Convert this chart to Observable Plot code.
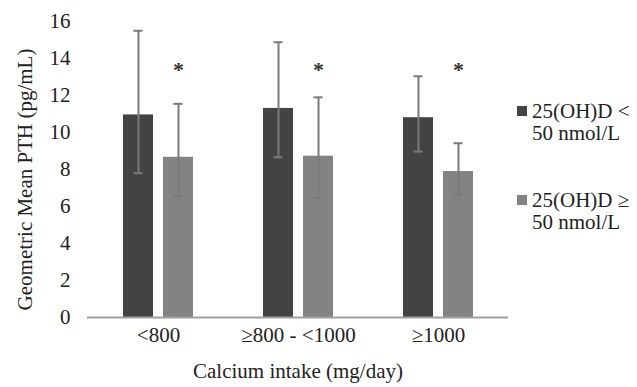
<!DOCTYPE html>
<html>
<head>
<meta charset="utf-8">
<script src="https://cdn.jsdelivr.net/npm/d3@7"></script>
<script src="https://cdn.jsdelivr.net/npm/@observablehq/plot@0.6"></script>
<style>
  html, body { margin: 0; padding: 0; background: #fff; }
  #wrap { position: relative; width: 637px; height: 387px; font-family: "Liberation Serif", "Times New Roman", serif; }
  .leg { position: absolute; left: 517px; font-size: 21px; line-height: 22px; color: #222; }
  .leg .sw { position: absolute; left: 0; top: 6px; width: 10px; height: 10px; }
  .leg .tx { margin-left: 15px; white-space: nowrap; }
</style>
</head>
<body>
<div id="wrap"></div>
<script>
const categories = ["<800", "≥800 - <1000", "≥1000"];
const seriesNames = ["25(OH)D < 50 nmol/L", "25(OH)D ≥ 50 nmol/L"];
const lowVitD = [10.95, 11.3, 10.8];
const lowVitDUpper = [15.5, 14.88, 13.04];
const lowVitDLower = [7.8, 8.66, 8.97];
const highVitD = [8.66, 8.72, 7.89];
const highVitDUpper = [11.55, 11.9, 9.42];
const highVitDLower = [6.56, 6.45, 6.65];
const starLevel = [13.4, 13.4, 13.4];
const yTicks = [0, 2, 4, 6, 8, 10, 12, 14, 16];
const yTitle = "Geometric Mean PTH (pg/mL)";
const xTitle = "Calcium intake (mg/day)";
const colors = ["#434343", "#838383"];

const dark = categories.map((c, i) => ({cat: c, v: lowVitD[i], lo: lowVitDLower[i], hi: lowVitDUpper[i]}));
const light = categories.map((c, i) => ({cat: c, v: highVitD[i], lo: highVitDLower[i], hi: highVitDUpper[i], star: starLevel[i]}));

const font = "Liberation Serif";
const errColor = "#7a7a7a";
const capInset = 65.5;

const chart = Plot.plot({
  width: 510,
  height: 387,
  marginLeft: 87,
  marginRight: 2,
  marginTop: 21,
  marginBottom: 70,
  style: {fontFamily: font, fontSize: "21px", color: "#222", background: "transparent", overflow: "visible"},
  x: {domain: categories, padding: 0, label: null},
  y: {domain: [0, 16], label: null},
  marks: [
    Plot.axisY({ticks: yTicks, tickSize: 0, tickPadding: 17, label: null, fontSize: 21}),
    Plot.axisX({tickSize: 0, tickPadding: 10, label: null, fontSize: 21}),
    Plot.barY(dark, {x: "cat", y: "v", fill: colors[0], dx: -20, insetLeft: 55, insetRight: 55}),
    Plot.barY(light, {x: "cat", y: "v", fill: colors[1], dx: 20, insetLeft: 55, insetRight: 55}),
    Plot.ruleX(dark, {x: "cat", y1: "lo", y2: "hi", stroke: errColor, strokeWidth: 2, dx: -20}),
    Plot.ruleX(light, {x: "cat", y1: "lo", y2: "hi", stroke: errColor, strokeWidth: 2, dx: 20}),
    Plot.tickY(dark, {x: "cat", y: "hi", stroke: errColor, strokeWidth: 2, dx: -20, insetLeft: capInset, insetRight: capInset}),
    Plot.tickY(dark, {x: "cat", y: "lo", stroke: errColor, strokeWidth: 2, dx: -20, insetLeft: capInset, insetRight: capInset}),
    Plot.tickY(light, {x: "cat", y: "hi", stroke: errColor, strokeWidth: 2, dx: 20, insetLeft: capInset, insetRight: capInset}),
    Plot.tickY(light, {x: "cat", y: "lo", stroke: errColor, strokeWidth: 2, dx: 20, insetLeft: capInset, insetRight: capInset}),
    Plot.text(light, {x: "cat", y: "star", text: () => "*", dx: 20, fontSize: 22, fill: "#333", fontWeight: "bold"}),
    Plot.ruleY([0], {stroke: "#a0a0a0", strokeWidth: 2}),
    Plot.text([yTitle], {frameAnchor: "left", textAnchor: "middle", rotate: -90, dx: -62, dy: 10, fontSize: 21, fill: "#222"}),
    Plot.text([xTitle], {frameAnchor: "bottom", textAnchor: "middle", dy: 60, fontSize: 21, fill: "#222"})
  ]
});

const wrap = document.getElementById("wrap");
wrap.appendChild(chart);

const legTops = [100, 189];
seriesNames.forEach((name, i) => {
  const parts = name.split(" 50 ");
  const div = document.createElement("div");
  div.className = "leg";
  div.style.top = legTops[i] + "px";
  const sw = document.createElement("div");
  sw.className = "sw";
  sw.style.background = colors[i];
  div.appendChild(sw);
  const t1 = document.createElement("div");
  t1.className = "tx";
  t1.textContent = parts[0];
  const t2 = document.createElement("div");
  t2.className = "tx";
  t2.textContent = "50 " + parts[1];
  div.appendChild(t1);
  div.appendChild(t2);
  wrap.appendChild(div);
});
</script>
</body>
</html>
